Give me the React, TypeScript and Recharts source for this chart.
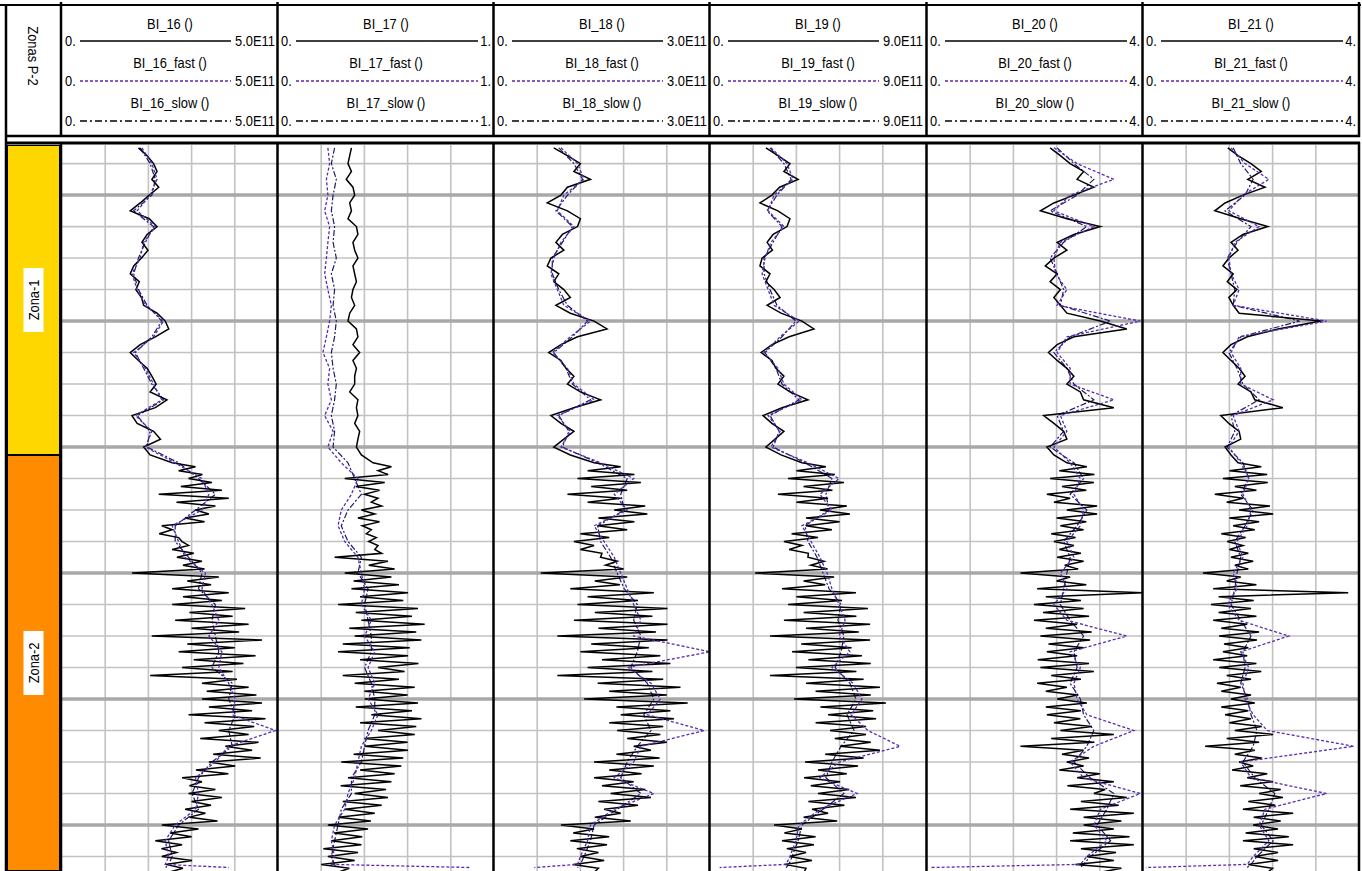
import React from 'react';
import { LineChart, Line, XAxis, YAxis, ReferenceLine, ReferenceArea } from 'recharts';

// ---------- depth categories ----------
// Zona-1 sampled every 2.5, Zona-2 every 1.25
const MAIN_DEPTHS = [
  1225, 1227.5, 1230, 1232.5, 1235, 1237.5, 1240, 1242.5, 1245, 1247.5,
  1250, 1252.5, 1255, 1257.5, 1260, 1262.5, 1265, 1267.5, 1270, 1272.5,
  1275, 1277.5, 1280, 1282.5, 1285, 1287.5, 1290, 1292.5, 1295, 1297.5,
  1300, 1302.5, 1305, 1307.5, 1310, 1312.5, 1315, 1317.5, 1320, 1322.5,
  1325, 1326.25, 1327.5, 1328.75, 1330, 1331.25, 1332.5, 1333.75, 1335, 1336.25, 1337.5, 1338.75,
  1340, 1341.25, 1342.5, 1343.75, 1345, 1346.25, 1347.5, 1348.75, 1350, 1351.25, 1352.5, 1353.75,
  1355, 1356.25, 1357.5, 1358.75, 1360, 1361.25, 1362.5, 1363.75, 1365, 1366.25, 1367.5, 1368.75,
  1370, 1371.25, 1372.5, 1373.75, 1375, 1376.25, 1377.5, 1378.75, 1380, 1381.25, 1382.5, 1383.75,
  1385, 1386.25, 1387.5, 1388.75, 1390, 1391.25, 1392.5, 1393.75, 1395, 1396.25, 1397.5, 1398.75,
  1400, 1401.25, 1402.5, 1403.75, 1405, 1406.25, 1407.5, 1408.75, 1410, 1411.25, 1412.5, 1413.75,
  1415, 1416.25, 1417.5, 1418.75, 1420, 1421.25, 1422.5, 1423.75, 1425, 1426.25, 1427.5, 1428.75,
  1430, 1431.25, 1432.5, 1433.75, 1435, 1436.25, 1437.5, 1438.75, 1440, 1441.25, 1442.5, 1443.75,
  1445, 1446.25, 1447.5, 1448.75, 1450, 1451.25, 1452.5, 1453.75, 1455,
];
const AUX_DEPTHS = [
  1225, 1230, 1235, 1240, 1245, 1250, 1255, 1260, 1265, 1270,
  1275, 1280, 1285, 1290, 1295, 1300, 1305, 1310, 1315, 1320,
  1325, 1330, 1335, 1340, 1345, 1350, 1355, 1360, 1365, 1370,
  1375, 1380, 1385, 1390, 1395, 1400, 1405, 1410, 1415, 1420,
  1425, 1430, 1435, 1440, 1445, 1450, 1452.5, 1453.5,
];
const GRID_DEPTHS = [1230, 1240, 1250, 1260, 1270, 1280, 1290, 1300, 1310, 1320, 1330, 1340, 1350, 1360, 1370, 1380, 1390, 1400, 1410, 1420, 1430, 1440, 1450];
const MAJOR_DEPTHS = [1240, 1280, 1320, 1360, 1400, 1440];
const DEPTH_TOP = 1224.1;
const DEPTH_BASE = 1454.6;

// ---------- zones ----------
const ZONE_NAMES = ['Zona-1', 'Zona-2'];
const ZONE_TOPS = [1224.1, 1322.5];
const ZONE_BASES = [1322.5, 1454.6];
const ZONE_COLORS = ['#FFD700', '#FF8C00'];

// ---------- tracks ----------
const TRACK_NAMES = ['BI_16', 'BI_17', 'BI_18', 'BI_19', 'BI_20', 'BI_21'];
const TRACK_MAX = [5, 1, 3, 9, 4, 4];
const TRACK_MIN_LABEL = '0.';
const TRACK_MAX_LABELS = ['5.0E11', '1.', '3.0E11', '9.0E11', '4.', '4.'];

// BI_16 (x 1E11)
const BI16_MAIN = [
  1.77, 1.97, 2.12, 2.20, 2.08, 2.24, 2.02, 1.81, 1.58, 2.02, 2.20, 1.97, 1.85, 1.99, 1.84, 1.66, 1.58, 1.79, 1.71, 1.84,
  1.89, 2.20, 2.39, 2.47, 2.16, 1.81, 1.58, 1.77, 1.97, 2.08, 2.18, 2.04, 2.43, 2.16, 1.62, 1.74, 2.12, 2.28, 1.89, 2.04,
  2.55, 3.09, 2.70, 3.25, 2.93, 3.47, 2.75, 3.70, 2.24, 3.86, 2.65, 3.55, 3.09, 3.40, 2.85, 3.30,
  2.31, 2.55, 2.25, 2.70, 2.78, 2.93, 2.55, 3.05, 2.66, 3.24, 2.80, 3.30, 1.62, 3.63, 2.90, 3.45,
  2.55, 3.86, 2.80, 3.70, 2.55, 4.24, 2.95, 3.95, 2.62, 4.32, 3.00, 4.10, 2.08, 4.63, 2.90, 4.00,
  2.70, 4.48, 3.05, 4.20, 2.78, 3.95, 2.04, 4.05, 3.24, 4.32, 3.35, 4.50, 3.24, 4.63, 3.40, 4.40,
  2.93, 4.71, 3.30, 4.45, 3.63, 4.32, 3.20, 4.55, 3.78, 4.40, 3.50, 4.60, 3.40, 4.01, 3.10, 3.85,
  2.78, 3.24, 2.95, 3.55, 2.93, 3.70, 3.00, 3.45, 2.85, 3.32, 2.95, 3.60, 2.31, 3.16, 2.50, 3.00,
  2.16, 2.78, 2.30, 2.65, 2.31, 3.01, 2.40, 2.80, 2.47,
];
const BI16_FAST = [
  1.85, 2.08, 2.20, 2.04, 1.74, 2.16, 1.89, 1.81, 1.62, 1.74, 1.93, 2.35, 2.12, 1.66, 1.93, 2.12, 2.31, 1.70, 2.08, 1.93,
  2.62, 3.24, 3.40, 3.24, 2.55, 2.70, 2.85, 3.32, 3.24, 3.47, 3.63, 3.40, 3.70, 3.63, 3.86, 4.01, 3.94, 4.94, 3.86, 3.55,
  3.09, 3.16, 3.09, 2.62, 2.39, 2.47, 2.39, 3.86,
];
const BI16_SLOW = [
  1.81, 2.04, 2.16, 2.08, 1.66, 2.12, 1.93, 1.77, 1.66, 1.77, 1.97, 2.31, 2.08, 1.70, 1.89, 2.08, 2.35, 1.74, 2.04, 1.97,
  2.70, 3.16, 3.55, 3.09, 2.62, 2.62, 2.93, 3.24, 3.16, 3.55, 3.47, 3.55, 3.63, 3.47, 3.94, 3.86, 4.01, 3.86, 3.94, 3.47,
  3.16, 3.01, 3.16, 2.70, 2.47, 2.55, 2.47, 2.40,
];

// BI_17
const BI17_MAIN = [
  0.340, 0.332, 0.324, 0.340, 0.316, 0.347, 0.355, 0.332, 0.340, 0.324, 0.363, 0.370, 0.347, 0.355, 0.370, 0.347, 0.355, 0.363, 0.347, 0.340,
  0.355, 0.332, 0.324, 0.363, 0.370, 0.347, 0.378, 0.347, 0.363, 0.355, 0.355, 0.332, 0.370, 0.363, 0.370, 0.355, 0.378, 0.370, 0.363, 0.386,
  0.440, 0.525, 0.463, 0.510, 0.309, 0.494, 0.360, 0.470, 0.400, 0.463, 0.432, 0.480, 0.386, 0.448, 0.370, 0.470,
  0.390, 0.432, 0.409, 0.455, 0.420, 0.463, 0.448, 0.480, 0.262, 0.509, 0.420, 0.540, 0.309, 0.525, 0.350, 0.560,
  0.340, 0.602, 0.380, 0.580, 0.278, 0.648, 0.360, 0.620, 0.386, 0.679, 0.330, 0.640, 0.355, 0.664, 0.300, 0.610,
  0.278, 0.602, 0.380, 0.650, 0.463, 0.586, 0.300, 0.560, 0.355, 0.633, 0.400, 0.600, 0.401, 0.648, 0.360, 0.620,
  0.432, 0.664, 0.380, 0.640, 0.463, 0.633, 0.400, 0.600, 0.401, 0.602, 0.350, 0.580, 0.293, 0.571, 0.380, 0.540,
  0.324, 0.525, 0.290, 0.500, 0.355, 0.509, 0.300, 0.480, 0.309, 0.448, 0.280, 0.430, 0.231, 0.417, 0.260, 0.390,
  0.247, 0.386, 0.210, 0.370, 0.231, 0.355, 0.200, 0.330, 0.278,
];
const BI17_FAST = [
  0.231, 0.239, 0.224, 0.231, 0.216, 0.239, 0.231, 0.224, 0.216, 0.231, 0.247, 0.239, 0.224, 0.208, 0.239, 0.231, 0.247, 0.216, 0.255, 0.231,
  0.293, 0.370, 0.340, 0.293, 0.278, 0.309, 0.370, 0.386, 0.401, 0.386, 0.432, 0.401, 0.448, 0.417, 0.448, 0.417, 0.463, 0.432, 0.386, 0.370,
  0.355, 0.324, 0.309, 0.262, 0.247, 0.262, 0.247, 0.895,
];
const BI17_SLOW = [
  0.262, 0.247, 0.270, 0.255, 0.247, 0.262, 0.255, 0.270, 0.247, 0.262, 0.255, 0.270, 0.262, 0.247, 0.255, 0.270, 0.262, 0.247, 0.262, 0.255,
  0.324, 0.355, 0.386, 0.324, 0.293, 0.324, 0.386, 0.370, 0.417, 0.401, 0.417, 0.432, 0.432, 0.401, 0.432, 0.448, 0.448, 0.417, 0.401, 0.386,
  0.340, 0.340, 0.293, 0.278, 0.262, 0.247, 0.262, 0.270,
];

// BI_18 (x 1E11)
const BI18_MAIN = [
  0.83, 1.02, 1.20, 1.11, 1.34, 1.02, 0.93, 0.74, 1.02, 1.20, 1.16, 0.95, 0.86, 0.97, 0.79, 0.74, 0.90, 0.83, 0.97, 1.06,
  0.86, 1.06, 1.39, 1.57, 1.16, 0.93, 0.76, 0.93, 1.00, 1.11, 1.02, 1.20, 1.48, 1.11, 0.79, 0.93, 1.11, 0.97, 0.83, 1.06,
  1.39, 1.76, 1.30, 1.95, 1.16, 2.04, 1.35, 1.85, 1.02, 1.76, 1.30, 2.10, 1.67, 2.13, 1.45, 1.95,
  1.44, 1.85, 1.20, 1.60, 1.11, 1.39, 1.20, 1.50, 1.48, 1.71, 1.55, 1.80, 0.65, 1.85, 1.40, 1.75,
  1.06, 2.22, 1.30, 2.00, 1.16, 2.41, 1.40, 2.20, 1.11, 2.41, 1.45, 2.25, 0.88, 2.41, 1.35, 2.15,
  1.20, 2.31, 1.50, 2.45, 1.30, 2.20, 0.88, 2.35, 1.44, 2.59, 1.60, 2.40, 1.25, 2.69, 1.70, 2.45,
  1.76, 2.50, 1.60, 2.35, 1.71, 2.31, 1.85, 2.40, 1.94, 2.18, 1.70, 2.30, 1.39, 2.22, 1.60, 2.05,
  1.39, 1.94, 1.50, 2.10, 1.62, 2.18, 1.45, 2.00, 1.53, 1.76, 1.40, 1.90, 0.93, 1.39, 1.10, 1.60,
  1.06, 1.57, 1.15, 1.45, 1.20, 1.53, 1.10, 1.45, 1.39,
];
const BI18_FAST = [
  0.93, 1.16, 1.25, 0.97, 0.88, 1.11, 0.93, 0.83, 0.79, 0.88, 0.97, 1.34, 1.06, 0.81, 1.02, 1.11, 1.39, 0.88, 1.06, 0.93,
  1.48, 1.94, 1.67, 1.85, 1.39, 1.53, 1.67, 1.76, 1.85, 1.94, 2.04, 1.94, 3.00, 1.85, 2.18, 2.31, 2.13, 2.92, 2.04, 1.94,
  1.67, 2.22, 1.67, 1.34, 1.30, 1.20, 1.16, 0.56,
];
const BI18_SLOW = [
  0.90, 1.11, 1.23, 1.02, 0.86, 1.09, 0.95, 0.81, 0.81, 0.90, 1.02, 1.30, 1.09, 0.83, 1.00, 1.09, 1.34, 0.90, 1.04, 0.95,
  1.44, 1.85, 1.76, 1.81, 1.44, 1.48, 1.62, 1.71, 1.81, 1.99, 1.94, 2.04, 1.99, 1.90, 2.13, 2.22, 2.08, 2.18, 1.99, 1.85,
  1.76, 2.04, 1.71, 1.39, 1.34, 1.25, 1.20, 1.16,
];

// BI_19 (x 1E11)
const BI19_MAIN = [
  2.33, 2.83, 3.33, 3.08, 3.67, 2.90, 2.58, 2.08, 2.83, 3.33, 3.21, 2.63, 2.38, 2.60, 2.17, 2.08, 2.50, 2.33, 2.67, 2.92,
  2.38, 2.96, 3.83, 4.33, 3.30, 2.58, 2.13, 2.58, 2.75, 3.08, 2.83, 3.33, 4.08, 3.00, 2.21, 2.58, 3.08, 2.71, 2.33, 2.96,
  3.83, 4.83, 3.60, 5.20, 3.25, 5.58, 3.90, 5.10, 2.83, 4.92, 3.60, 5.70, 4.58, 5.83, 4.00, 5.40,
  4.00, 5.08, 3.40, 4.50, 3.08, 3.83, 3.30, 4.10, 4.08, 4.75, 4.20, 4.90, 1.88, 5.17, 3.90, 4.80,
  3.00, 6.08, 3.60, 5.50, 3.25, 6.58, 3.90, 6.10, 3.08, 6.67, 4.00, 6.20, 2.50, 6.67, 3.80, 5.90,
  3.42, 6.33, 4.10, 6.70, 3.58, 6.10, 2.50, 6.40, 4.00, 7.08, 4.40, 6.70, 3.50, 7.33, 4.60, 6.80,
  4.92, 6.92, 4.40, 6.50, 5.00, 6.50, 5.20, 6.70, 5.42, 7.08, 4.80, 6.40, 3.96, 6.17, 4.50, 5.70,
  3.92, 5.42, 4.20, 5.80, 4.50, 6.08, 4.10, 5.60, 4.25, 4.92, 3.90, 5.30, 2.67, 3.83, 3.10, 4.40,
  3.00, 4.33, 3.20, 4.00, 3.33, 4.25, 3.10, 4.00, 3.92,
];
const BI19_FAST = [
  2.54, 3.21, 3.46, 2.67, 2.42, 3.08, 2.54, 2.29, 2.17, 2.42, 2.67, 3.71, 2.92, 2.25, 2.83, 3.08, 3.83, 2.42, 2.92, 2.54,
  4.08, 5.38, 4.58, 5.08, 3.83, 4.21, 4.58, 4.88, 5.08, 5.38, 5.63, 5.38, 5.83, 5.08, 5.96, 6.33, 5.88, 6.58, 7.92, 5.38,
  4.58, 6.13, 4.58, 3.71, 3.58, 3.33, 3.17, 0.40,
];
const BI19_SLOW = [
  2.50, 3.08, 3.38, 2.79, 2.38, 3.00, 2.63, 2.25, 2.25, 2.50, 2.79, 3.58, 3.00, 2.29, 2.75, 3.00, 3.71, 2.50, 2.88, 2.63,
  3.96, 5.08, 4.83, 4.96, 3.96, 4.08, 4.46, 4.71, 4.96, 5.46, 5.33, 5.58, 5.46, 5.21, 5.83, 6.08, 5.71, 6.00, 5.46, 5.08,
  4.83, 5.58, 4.71, 3.83, 3.67, 3.42, 3.29, 3.17,
];

// BI_20
const BI20_MAIN = [
  2.28, 2.47, 2.65, 2.90, 2.78, 3.09, 2.72, 2.35, 2.10, 2.59, 3.21, 2.72, 2.41, 2.59, 2.35, 2.19, 2.41, 2.28, 2.47, 2.35,
  2.47, 2.59, 3.21, 3.70, 2.72, 2.41, 2.25, 2.41, 2.59, 2.72, 2.59, 2.84, 2.90, 3.46, 2.16, 2.35, 2.53, 2.59, 2.22, 2.35,
  2.59, 2.96, 2.45, 3.10, 2.28, 3.09, 2.50, 2.95, 2.22, 2.65, 2.35, 3.15, 2.59, 3.15, 2.40, 2.95,
  2.47, 2.90, 2.30, 2.75, 2.35, 2.72, 2.45, 2.85, 2.41, 2.90, 2.55, 2.80, 1.73, 2.65, 2.40, 2.95,
  2.04, 4.00, 2.20, 2.85, 1.98, 2.90, 2.15, 3.00, 1.98, 2.78, 2.20, 3.05, 2.10, 3.02, 2.25, 2.90,
  2.22, 2.78, 2.05, 3.00, 2.10, 3.09, 2.30, 2.85, 2.04, 2.59, 2.20, 2.80, 2.41, 2.96, 2.20, 2.85,
  2.22, 2.84, 2.35, 3.05, 2.47, 3.46, 2.30, 3.10, 1.73, 2.90, 2.50, 3.00, 2.59, 2.90, 2.45, 3.20,
  2.78, 3.46, 2.60, 3.30, 3.09, 3.70, 2.85, 3.55, 2.65, 3.83, 2.90, 3.60, 2.90, 3.46, 2.70, 3.75,
  2.65, 3.83, 2.85, 3.50, 2.96, 3.46, 2.75, 3.60, 3.21,
];
const BI20_FAST = [
  2.35, 2.78, 3.46, 2.65, 2.35, 3.09, 2.47, 2.35, 2.38, 2.59, 2.41, 3.95, 2.59, 2.41, 2.65, 2.65, 3.46, 2.47, 2.59, 2.35,
  2.65, 2.84, 2.72, 2.90, 2.84, 2.59, 2.72, 2.47, 2.59, 2.35, 2.59, 3.70, 2.65, 2.84, 2.72, 2.78, 2.96, 3.83, 3.09, 2.65,
  2.90, 3.95, 3.21, 3.09, 3.33, 2.96, 2.84, 0.05,
];
const BI20_SLOW = [
  2.41, 2.72, 3.09, 2.78, 2.28, 2.96, 2.53, 2.28, 2.41, 2.53, 2.47, 3.40, 2.65, 2.35, 2.59, 2.72, 3.09, 2.41, 2.53, 2.28,
  2.72, 2.90, 2.65, 2.96, 2.78, 2.53, 2.65, 2.59, 2.53, 2.47, 2.65, 2.90, 2.72, 2.78, 2.65, 2.84, 2.90, 3.09, 2.96, 2.72,
  3.02, 3.46, 3.33, 3.15, 3.40, 3.02, 2.90, 2.84,
];

// BI_21
const BI21_MAIN = [
  1.57, 1.76, 2.00, 2.19, 1.94, 2.26, 1.85, 1.52, 1.33, 1.81, 2.31, 1.85, 1.63, 1.76, 1.59, 1.48, 1.67, 1.56, 1.74, 1.59,
  1.67, 1.78, 3.30, 2.50, 1.93, 1.63, 1.48, 1.63, 1.78, 1.89, 1.76, 2.00, 2.07, 2.59, 1.44, 1.59, 1.78, 1.81, 1.52, 1.63,
  1.76, 2.19, 1.60, 2.30, 1.48, 2.31, 1.70, 2.10, 1.33, 1.85, 1.55, 2.35, 1.78, 2.41, 1.60, 2.15,
  1.67, 2.07, 1.45, 1.90, 1.56, 1.85, 1.60, 1.95, 1.63, 2.04, 1.70, 1.95, 1.11, 1.81, 1.55, 2.10,
  1.30, 3.80, 1.40, 2.05, 1.26, 2.00, 1.40, 2.10, 1.30, 1.93, 1.45, 2.15, 1.41, 2.11, 1.50, 1.95,
  1.48, 1.93, 1.30, 2.10, 1.41, 2.19, 1.55, 2.00, 1.37, 1.81, 1.45, 2.00, 1.63, 2.07, 1.45, 1.95,
  1.52, 2.00, 1.60, 2.20, 1.70, 2.41, 1.55, 2.15, 1.15, 2.07, 1.70, 2.20, 1.78, 2.04, 1.65, 2.30,
  1.93, 2.41, 1.80, 2.55, 2.15, 2.59, 1.95, 2.45, 1.85, 2.78, 2.05, 2.55, 2.04, 2.50, 1.90, 2.70,
  1.85, 2.78, 2.05, 2.50, 2.07, 2.50, 1.95, 2.40, 2.31,
];
const BI21_FAST = [
  1.63, 1.89, 2.33, 1.85, 1.59, 2.15, 1.70, 1.59, 1.63, 1.78, 1.67, 3.40, 1.78, 1.63, 1.81, 1.81, 2.41, 1.67, 1.78, 1.59,
  1.81, 1.96, 1.85, 2.00, 1.93, 1.74, 1.85, 1.67, 1.74, 1.56, 1.78, 2.70, 1.81, 1.96, 1.85, 1.89, 2.04, 2.30, 3.90, 1.81,
  2.00, 3.40, 2.26, 2.15, 2.33, 2.04, 1.93, 0.05,
];
const BI21_SLOW = [
  1.67, 1.81, 2.04, 1.89, 1.52, 2.00, 1.74, 1.56, 1.63, 1.70, 1.67, 2.90, 1.81, 1.59, 1.74, 1.85, 2.15, 1.63, 1.70, 1.56,
  1.85, 1.96, 1.81, 2.04, 1.89, 1.70, 1.81, 1.74, 1.70, 1.63, 1.81, 2.00, 1.85, 1.89, 1.81, 1.93, 2.00, 2.11, 2.04, 1.85,
  2.07, 2.44, 2.33, 2.19, 2.41, 2.11, 2.00, 1.93,
];

const TRACK_SERIES = [
  [BI16_MAIN, BI16_FAST, BI16_SLOW],
  [BI17_MAIN, BI17_FAST, BI17_SLOW],
  [BI18_MAIN, BI18_FAST, BI18_SLOW],
  [BI19_MAIN, BI19_FAST, BI19_SLOW],
  [BI20_MAIN, BI20_FAST, BI20_SLOW],
  [BI21_MAIN, BI21_FAST, BI21_SLOW],
];

// ---------- layout / style ----------
const W = 1362;
const H = 871;
const TRACK_LEFTS = [62, 278, 494, 710, 927, 1143];
const TRACK_WIDTH = 216;
const PLOT_TOP = 145;
const PLOT_HEIGHT = H - PLOT_TOP;
const FONT = "'Liberation Sans', Arial, sans-serif";
const FONT_SIZE = 15;
const NARROW = 0.86;
const FAST_COLOR = '#5a28b4';
const SLOW_COLOR = '#1c1c6a';

const toRows = (depths: number[], values: number[]) =>
  values.map((v, i) => ({ depth: depths[i], v }));

function NText(props: { x: number; y: number; anchor?: 'start' | 'middle' | 'end'; rotate?: number; central?: boolean; children: React.ReactNode }) {
  const { x, y, anchor = 'start', rotate = 0, central = false, children } = props;
  return (
    <text
      transform={`translate(${x} ${y}) rotate(${rotate}) scale(${NARROW} 1)`}
      textAnchor={anchor}
      dominantBaseline={central ? 'central' : undefined}
      fontFamily={FONT}
      fontSize={FONT_SIZE}
      fill="#000"
    >
      {children}
    </text>
  );
}

function Track({ index }: { index: number }) {
  const max = TRACK_MAX[index];
  const [main, fast, slow] = TRACK_SERIES[index];
  const vTicks = [0.2, 0.4, 0.6, 0.8].map((f) => f * max);
  return (
    <div style={{ position: 'absolute', left: TRACK_LEFTS[index], top: PLOT_TOP }}>
      <LineChart width={TRACK_WIDTH} height={PLOT_HEIGHT} layout="vertical" margin={{ top: 0, right: 0, bottom: 0, left: 0 }}>
        <XAxis type="number" dataKey="v" domain={[0, max]} allowDataOverflow hide />
        <YAxis type="number" dataKey="depth" domain={[DEPTH_TOP, DEPTH_BASE]} allowDataOverflow hide />
        {vTicks.map((t) => (
          <ReferenceLine key={'v' + t} x={t} stroke="#c2c2c2" strokeWidth={1.6} />
        ))}
        {GRID_DEPTHS.map((d) => (
          <ReferenceLine
            key={'h' + d}
            y={d}
            stroke={MAJOR_DEPTHS.includes(d) ? '#a8a8a8' : '#c2c2c2'}
            strokeWidth={MAJOR_DEPTHS.includes(d) ? 3.5 : 1.6}
          />
        ))}
        <Line
          data={toRows(AUX_DEPTHS, slow)}
          dataKey="v"
          type="linear"
          stroke={SLOW_COLOR}
          strokeWidth={1.2}
          strokeDasharray="6 2 2 2"
          dot={false}
          isAnimationActive={false}
        />
        <Line
          data={toRows(MAIN_DEPTHS, main)}
          dataKey="v"
          type="linear"
          stroke="#000000"
          strokeWidth={1.5}
          dot={false}
          isAnimationActive={false}
        />
        <Line
          data={toRows(AUX_DEPTHS, fast)}
          dataKey="v"
          type="linear"
          stroke={FAST_COLOR}
          strokeWidth={1.3}
          strokeDasharray="3 2"
          dot={false}
          isAnimationActive={false}
        />
      </LineChart>
    </div>
  );
}

function ZoneLabel(props: any) {
  const { viewBox, text } = props;
  if (!viewBox) return null;
  const cx = viewBox.x + viewBox.width / 2;
  const cy = viewBox.y + viewBox.height / 2;
  return (
    <g>
      <rect x={cx - 10} y={cy - 32} width={20} height={64} fill="#ffffff" />
      <NText x={cx} y={cy} anchor="middle" rotate={-90} central>
        {text}
      </NText>
    </g>
  );
}

function ZoneColumn() {
  const rows = ZONE_TOPS.map((t) => ({ depth: t, v: 0.5 }));
  return (
    <div style={{ position: 'absolute', left: 7, top: PLOT_TOP }}>
      <LineChart width={53} height={PLOT_HEIGHT} layout="vertical" margin={{ top: 0, right: 0, bottom: 0, left: 0 }}>
        <XAxis type="number" dataKey="v" domain={[0, 1]} hide />
        <YAxis type="number" dataKey="depth" domain={[DEPTH_TOP, DEPTH_BASE]} allowDataOverflow hide />
        {ZONE_NAMES.map((name, i) => (
          <ReferenceArea
            key={name}
            y1={ZONE_TOPS[i]}
            y2={ZONE_BASES[i]}
            fill={ZONE_COLORS[i]}
            fillOpacity={1}
            stroke="#000"
            strokeWidth={2}
            label={<ZoneLabel text={name} />}
          />
        ))}
        <Line data={rows} dataKey="v" stroke="none" dot={false} isAnimationActive={false} />
      </LineChart>
    </div>
  );
}

function Header() {
  const lineYs = [41, 81, 121];
  const titleYs = [28.5, 67.5, 107.5];
  const suffixes = ['', '_fast', '_slow'];
  const styles = [
    { stroke: '#000', dash: undefined as string | undefined },
    { stroke: FAST_COLOR, dash: '3 2' },
    { stroke: '#000', dash: '7 3 2 3' },
  ];
  return (
    <svg width={W} height={PLOT_TOP} style={{ position: 'absolute', left: 0, top: 0 }}>
      <NText x={33} y={56} anchor="middle" rotate={90} central>
        Zonas P-2
      </NText>
      {TRACK_NAMES.map((name, i) => {
        const left = TRACK_LEFTS[i];
        const right = left + TRACK_WIDTH;
        const cx = left + TRACK_WIDTH / 2;
        const maxLabel = TRACK_MAX_LABELS[i];
        const labelW = maxLabel.length > 2 ? 42 : 11;
        return (
          <g key={name}>
            {suffixes.map((s, r) => (
              <g key={s}>
                <NText x={cx} y={titleYs[r]} anchor="middle">
                  {`${name}${s} ()`}
                </NText>
                <NText x={left + 3} y={lineYs[r] + 5}>
                  {TRACK_MIN_LABEL}
                </NText>
                <NText x={right - 3} y={lineYs[r] + 5} anchor="end">
                  {maxLabel}
                </NText>
                <line
                  x1={left + 18}
                  x2={right - 5 - labelW}
                  y1={lineYs[r]}
                  y2={lineYs[r]}
                  stroke={styles[r].stroke}
                  strokeWidth={1.4}
                  strokeDasharray={styles[r].dash}
                />
              </g>
            ))}
          </g>
        );
      })}
    </svg>
  );
}

function Frame() {
  const dividers = [61, ...TRACK_LEFTS.slice(1).map((x) => x - 0.5), 1359];
  return (
    <svg width={W} height={H} style={{ position: 'absolute', left: 0, top: 0, pointerEvents: 'none' }}>
      <line x1={0} x2={1361} y1={5} y2={5} stroke="#000" strokeWidth={2} />
      <line x1={6} x2={1360} y1={136} y2={136} stroke="#000" strokeWidth={2.5} />
      <line x1={6} x2={1360} y1={143} y2={143} stroke="#000" strokeWidth={3} />
      <line x1={6} x2={6} y1={5} y2={H} stroke="#000" strokeWidth={2.5} />
      {dividers.map((x) => (
        <g key={x}>
          <line x1={x} x2={x} y1={2} y2={137} stroke="#000" strokeWidth={2.5} />
          <line x1={x} x2={x} y1={142} y2={H} stroke="#000" strokeWidth={2.5} />
        </g>
      ))}
    </svg>
  );
}

export default function App() {
  return (
    <div
      style={{
        position: 'absolute',
        left: 0,
        top: 0,
        width: W,
        height: H,
        background: '#ffffff',
        overflow: 'hidden',
      }}
    >
      <Header />
      <ZoneColumn />
      {TRACK_NAMES.map((n, i) => (
        <Track key={n} index={i} />
      ))}
      <Frame />
    </div>
  );
}
